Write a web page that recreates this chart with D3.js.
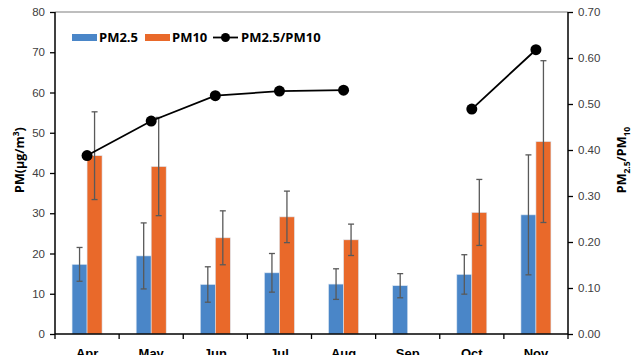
<!DOCTYPE html>
<html>
<head>
<meta charset="utf-8">
<script src="https://cdn.jsdelivr.net/npm/d3@7"></script>
<style>
  body { margin: 0; background: #fff; }
  svg { display: block; font-family: "Open Sans", "Liberation Sans", sans-serif; }
</style>
</head>
<body>
<svg id="chart"></svg>
<script>
// values
var months = ["Apr", "May", "Jun", "Jul", "Aug", "Sep", "Oct", "Nov"];
var pm25 = [17.3, 19.4, 12.3, 15.2, 12.4, 12.0, 14.8, 29.6];
var pm25Err = [4.2, 8.2, 4.4, 4.8, 3.8, 3.0, 4.9, 14.9];
var pm10 = [44.3, 41.6, 23.9, 29.1, 23.4, null, 30.2, 47.8];
var pm10Err = [10.9, 12.2, 6.7, 6.4, 3.9, null, 8.2, 20.1];
var ratio = [0.388, 0.463, 0.518, 0.528, 0.530, null, 0.489, 0.618];
var leftTicks = [0, 10, 20, 30, 40, 50, 60, 70, 80];
var rightTicks = [0, 0.1, 0.2, 0.3, 0.4, 0.5, 0.6, 0.7];

var svgWidth = 631, svgHeight = 355;
var margin = { top: 12, right: 63, bottom: 21, left: 55 };
var width = svgWidth - margin.left - margin.right;
var height = svgHeight - margin.top - margin.bottom;

var blue = "#4a86c8", orange = "#e9692a", textCol = "#404040";

var svg = d3.select("#chart")
  .attr("width", svgWidth)
  .attr("height", svgHeight);

var g = svg.append("g")
  .attr("transform", "translate(" + margin.left + "," + margin.top + ")");

var x = d3.scaleBand().domain(months).range([0, width]);
var y = d3.scaleLinear().domain([0, 80]).range([height, 0]);
var y2 = d3.scaleLinear().domain([0, 0.7]).range([height, 0]);
var barW = 15;

// top border
g.append("line")
  .attr("x1", 0).attr("x2", width)
  .attr("y1", 0).attr("y2", 0)
  .attr("stroke", "#7f7f7f").attr("stroke-width", 1.2);

// bars
function drawBars(vals, errs, offset, color) {
  var data = months.map(function(m, i) { return { m: m, v: vals[i], e: errs[i] }; })
    .filter(function(d) { return d.v != null; });
  g.selectAll(null).data(data).enter().append("rect")
    .attr("x", function(d) { return x(d.m) + x.bandwidth() / 2 + offset; })
    .attr("y", function(d) { return y(d.v); })
    .attr("width", barW)
    .attr("height", function(d) { return height - y(d.v); })
    .attr("fill", color)
    .attr("stroke", "#dbe6f2").attr("stroke-width", 0.6);

  var eb = g.selectAll(null).data(data).enter().append("g")
    .attr("stroke", "#595959").attr("stroke-width", 1.3);
  var cx = function(d) { return x(d.m) + x.bandwidth() / 2 + offset + barW / 2; };
  eb.append("line")
    .attr("x1", cx).attr("x2", cx)
    .attr("y1", function(d) { return y(d.v + d.e); })
    .attr("y2", function(d) { return y(d.v - d.e); });
  eb.append("line")
    .attr("x1", function(d) { return cx(d) - 3; }).attr("x2", function(d) { return cx(d) + 3; })
    .attr("y1", function(d) { return y(d.v + d.e); })
    .attr("y2", function(d) { return y(d.v + d.e); });
  eb.append("line")
    .attr("x1", function(d) { return cx(d) - 3; }).attr("x2", function(d) { return cx(d) + 3; })
    .attr("y1", function(d) { return y(d.v - d.e); })
    .attr("y2", function(d) { return y(d.v - d.e); });
}
drawBars(pm25, pm25Err, -barW, blue);
drawBars(pm10, pm10Err, 0, orange);

// ratio line
var ratioData = months.map(function(m, i) { return { m: m, r: ratio[i] }; });
var line = d3.line()
  .defined(function(d) { return d.r != null; })
  .x(function(d) { return x(d.m) + x.bandwidth() / 2; })
  .y(function(d) { return y2(d.r); });

g.append("path")
  .datum(ratioData)
  .attr("fill", "none")
  .attr("stroke", "#000")
  .attr("stroke-width", 1.8)
  .attr("d", line);

g.selectAll(".dot")
  .data(ratioData.filter(function(d) { return d.r != null; }))
  .enter().append("circle")
  .attr("class", "dot")
  .attr("cx", function(d) { return x(d.m) + x.bandwidth() / 2; })
  .attr("cy", function(d) { return y2(d.r); })
  .attr("r", 5.5)
  .attr("fill", "#000");

// axes
var leftAxis = g.append("g")
  .call(d3.axisLeft(y).tickValues(leftTicks).tickSize(5).tickPadding(5));
var rightAxis = g.append("g")
  .attr("transform", "translate(" + width + ",0)")
  .call(d3.axisRight(y2).tickValues(rightTicks).tickFormat(d3.format(".2f")).tickSize(5).tickPadding(5));
var bottomAxis = g.append("g")
  .attr("transform", "translate(0," + height + ")")
  .call(d3.axisBottom(x).tickSize(0).tickPadding(15));

[leftAxis, rightAxis, bottomAxis].forEach(function(a) {
  a.select(".domain").attr("stroke", "#000").attr("stroke-width", 1.5);
  a.selectAll(".tick line").attr("stroke", "#000").attr("stroke-width", 1.3);
  a.selectAll("text").attr("fill", textCol).style("font-size", "11.5px");
});
leftAxis.select(".domain").attr("d", "M0," + height + "V0");
rightAxis.select(".domain").attr("d", "M0," + height + "V0");
bottomAxis.select(".domain").attr("d", "M0,0H" + width);
bottomAxis.selectAll("text").style("font-size", "13px").style("font-weight", "bold").attr("fill", "#000");

// category boundary ticks
g.append("g").selectAll("line")
  .data(months.concat(["end"]))
  .enter().append("line")
  .attr("x1", function(d, i) { return i * x.step(); })
  .attr("x2", function(d, i) { return i * x.step(); })
  .attr("y1", height).attr("y2", height + 5)
  .attr("stroke", "#000").attr("stroke-width", 1.3);

// axis titles
svg.append("text")
  .attr("transform", "translate(24,160) rotate(-90)")
  .attr("text-anchor", "middle")
  .style("font-size", "12.5px").style("font-weight", "bold")
  .html("PM(\u03bcg/m<tspan dy='-5' style='font-size:8.5px'>3</tspan><tspan dy='5'>)</tspan>");

var rt = svg.append("text")
  .attr("transform", "translate(626,160) rotate(-90)")
  .attr("text-anchor", "middle")
  .style("font-size", "12.5px").style("font-weight", "bold");
rt.append("tspan").text("PM");
rt.append("tspan").attr("dy", 4).style("font-size", "8.5px").text("2.5");
rt.append("tspan").attr("dy", -4).text("/PM");
rt.append("tspan").attr("dy", 4).style("font-size", "8.5px").text("10");

// legend
var leg = svg.append("g").style("font-size", "13px").style("font-weight", "bold");
leg.append("rect").attr("x", 72).attr("y", 34).attr("width", 25).attr("height", 7).attr("fill", blue);
leg.append("text").attr("x", 99).attr("y", 42).text("PM2.5");
leg.append("rect").attr("x", 145).attr("y", 34).attr("width", 25).attr("height", 7).attr("fill", orange);
leg.append("text").attr("x", 172).attr("y", 42).text("PM10");
leg.append("line").attr("x1", 213).attr("x2", 238).attr("y1", 37.5).attr("y2", 37.5)
  .attr("stroke", "#000").attr("stroke-width", 1.8);
leg.append("circle").attr("cx", 225.5).attr("cy", 37.5).attr("r", 4.5).attr("fill", "#000");
leg.append("text").attr("x", 241).attr("y", 42).text("PM2.5/PM10");
</script>
</body>
</html>
